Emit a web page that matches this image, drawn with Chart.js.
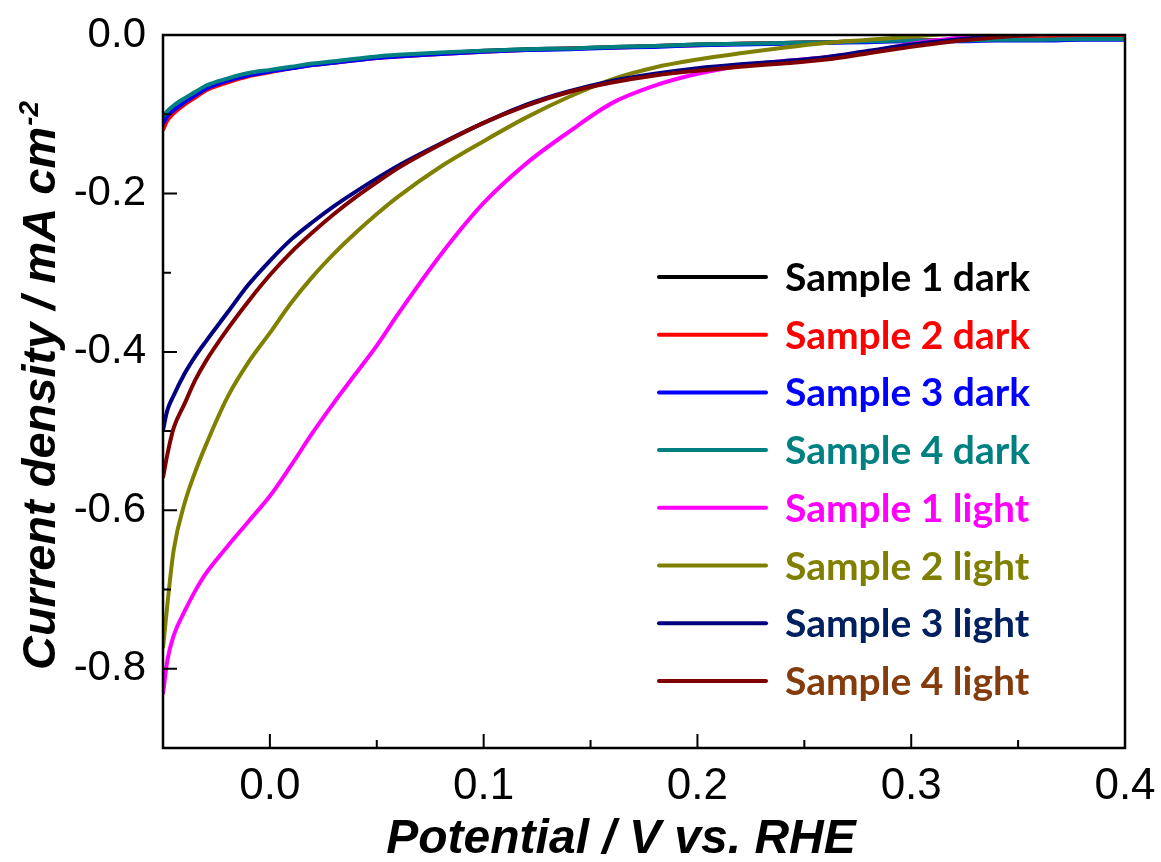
<!DOCTYPE html>
<html>
<head>
<meta charset="utf-8">
<title>LSV dark / light</title>
<script src="https://cdn.jsdelivr.net/npm/chart.js@4.4.1/dist/chart.umd.min.js"></script>
<style>
  html, body { margin: 0; padding: 0; background: #fff; }
  #wrap { width: 1161px; height: 862px; }
</style>
</head>
<body>
<div id="wrap"><canvas id="lsv-chart" width="1161" height="862"></canvas></div>
<script>
'use strict';

// potential (V vs. RHE), shared by every curve
const potential = [-0.05, -0.048, -0.045, -0.04, -0.035, -0.03, -0.02, -0.01, 0, 0.01, 0.02, 0.03, 0.04, 0.05, 0.06,
  0.08, 0.1, 0.12, 0.14, 0.16, 0.18, 0.2, 0.22, 0.24, 0.26, 0.28, 0.3, 0.32, 0.34, 0.36, 0.38, 0.4];

// current density (mA cm-2)
const s1Dark = [-0.106, -0.098, -0.091, -0.082, -0.074, -0.066, -0.056, -0.049, -0.045, -0.041, -0.037, -0.034, -0.031, -0.028, -0.026,
  -0.023, -0.020, -0.018, -0.017, -0.015, -0.014, -0.012, -0.011, -0.010, -0.009, -0.008, -0.007, -0.007, -0.006, -0.006, -0.005, -0.005];
const s2Dark = [-0.120, -0.108, -0.099, -0.088, -0.079, -0.070, -0.060, -0.052, -0.047, -0.042, -0.038, -0.035, -0.032, -0.029, -0.027,
  -0.024, -0.021, -0.019, -0.017, -0.016, -0.014, -0.013, -0.011, -0.010, -0.009, -0.008, -0.007, -0.006, -0.005, -0.004, -0.003, -0.002];
const s3Dark = [-0.112, -0.103, -0.095, -0.085, -0.076, -0.068, -0.058, -0.051, -0.046, -0.042, -0.038, -0.035, -0.032, -0.029, -0.027,
  -0.024, -0.021, -0.019, -0.018, -0.016, -0.015, -0.013, -0.012, -0.011, -0.010, -0.009, -0.008, -0.008, -0.007, -0.007, -0.006, -0.006];
const s4Dark = [-0.103, -0.096, -0.089, -0.080, -0.072, -0.064, -0.055, -0.048, -0.044, -0.040, -0.036, -0.033, -0.030, -0.027, -0.025,
  -0.022, -0.020, -0.018, -0.017, -0.015, -0.014, -0.012, -0.011, -0.010, -0.009, -0.008, -0.007, -0.007, -0.006, -0.006, -0.005, -0.005];
const s1Light = [-0.832, -0.790, -0.758, -0.728, -0.702, -0.680, -0.646, -0.614, -0.582, -0.543, -0.502, -0.464, -0.428, -0.392, -0.352,
  -0.277, -0.212, -0.162, -0.122, -0.086, -0.064, -0.049, -0.039, -0.033, -0.028, -0.021, -0.011, -0.004, 0.001, 0.005, 0.009, 0.013];
const s2Light = [-0.774, -0.720, -0.650, -0.592, -0.552, -0.518, -0.458, -0.413, -0.376, -0.338, -0.305, -0.276, -0.250, -0.226, -0.204,
  -0.166, -0.134, -0.104, -0.078, -0.056, -0.041, -0.031, -0.023, -0.016, -0.010, -0.006, -0.002, 0.002, 0.006, 0.010, 0.014, 0.018];
const s3Light = [-0.499, -0.474, -0.455, -0.428, -0.406, -0.387, -0.351, -0.315, -0.285, -0.258, -0.236, -0.216, -0.198, -0.181, -0.165,
  -0.137, -0.111, -0.088, -0.071, -0.058, -0.049, -0.042, -0.037, -0.033, -0.028, -0.020, -0.012, -0.006, -0.002, 0.002, 0.006, 0.010];
const s4Light = [-0.559, -0.530, -0.496, -0.466, -0.436, -0.412, -0.372, -0.336, -0.303, -0.274, -0.249, -0.226, -0.205, -0.186, -0.168,
  -0.138, -0.111, -0.089, -0.072, -0.060, -0.051, -0.045, -0.040, -0.036, -0.031, -0.023, -0.015, -0.008, -0.003, 0.001, 0.005, 0.009];

const seriesLabels = ['Sample 1 dark', 'Sample 2 dark', 'Sample 3 dark', 'Sample 4 dark',
  'Sample 1 light', 'Sample 2 light', 'Sample 3 light', 'Sample 4 light'];
const seriesValues = [s1Dark, s2Dark, s3Dark, s4Dark, s1Light, s2Light, s3Light, s4Light];
const lineColors = ['#000000', '#ff0000', '#0000ff', '#008080', '#ff00ff', '#808000', '#000080', '#800000'];
const textColors = ['#000000', '#ff0000', '#0000ff', '#008080', '#ff00ff', '#808000', '#002060', '#843c0c'];

const xTickValues = [0, 0.1, 0.2, 0.3, 0.4];
const xMinorTicks = [0.05, 0.15, 0.25, 0.35];
const yTickValues = [0, -0.2, -0.4, -0.6, -0.8];
const yMinorTicks = [-0.1, -0.3, -0.5, -0.7];

const AXIS_FONT = "'Liberation Sans', Arial, sans-serif";

// box, inward ticks, axis titles and the coloured legend
const decorations = {
  id: 'decorations',
  afterDraw(chart) {
    const ctx = chart.ctx;
    const a = chart.chartArea;
    const xs = chart.scales.x;
    const ys = chart.scales.y;

    ctx.save();
    ctx.strokeStyle = '#000';
    ctx.lineWidth = 2.5;
    ctx.strokeRect(a.left, a.top, a.right - a.left, a.bottom - a.top);

    ctx.lineWidth = 2;
    ctx.beginPath();
    xTickValues.forEach(function (v) {
      const px = xs.getPixelForValue(v);
      ctx.moveTo(px, a.bottom); ctx.lineTo(px, a.bottom - 14);
    });
    xMinorTicks.forEach(function (v) {
      const px = xs.getPixelForValue(v);
      ctx.moveTo(px, a.bottom); ctx.lineTo(px, a.bottom - 8);
    });
    yTickValues.forEach(function (v) {
      const py = ys.getPixelForValue(v);
      ctx.moveTo(a.left, py); ctx.lineTo(a.left + 14, py);
    });
    yMinorTicks.forEach(function (v) {
      const py = ys.getPixelForValue(v);
      ctx.moveTo(a.left, py); ctx.lineTo(a.left + 8, py);
    });
    ctx.stroke();

    // x title
    ctx.fillStyle = '#000';
    ctx.font = 'italic bold 48px ' + AXIS_FONT;
    ctx.textAlign = 'center';
    ctx.textBaseline = 'alphabetic';
    ctx.fillText('Potential / V vs. RHE', 621, 853);

    // y title with superscript
    const main = 'Current density / mA cm';
    const sup = '-2';
    ctx.font = 'italic bold 47px ' + AXIS_FONT;
    const wMain = ctx.measureText(main).width;
    ctx.font = 'italic bold 28px ' + AXIS_FONT;
    const wSup = ctx.measureText(sup).width;
    ctx.translate(55, 386);
    ctx.rotate(-Math.PI / 2);
    ctx.textAlign = 'left';
    const start = -(wMain + wSup) / 2;
    ctx.font = 'italic bold 47px ' + AXIS_FONT;
    ctx.fillText(main, start, 0);
    ctx.font = 'italic bold 28px ' + AXIS_FONT;
    ctx.fillText(sup, start + wMain + 1, -17);
    ctx.setTransform(1, 0, 0, 1, 0, 0);

    // legend
    const lineX0 = 659, lineX1 = 766, textX = 785, rowY0 = 277, rowStep = 57.7;
    ctx.font = 'bold 39px Lato, "Open Sans", sans-serif';
    ctx.textAlign = 'left';
    ctx.textBaseline = 'alphabetic';
    ctx.lineCap = 'round';
    ctx.lineWidth = 4;
    seriesLabels.forEach(function (label, i) {
      const y = rowY0 + i * rowStep;
      ctx.strokeStyle = lineColors[i];
      ctx.beginPath();
      ctx.moveTo(lineX0, y); ctx.lineTo(lineX1, y);
      ctx.stroke();
      ctx.fillStyle = textColors[i];
      ctx.fillText(label, textX, y + 14);
    });
    ctx.restore();
  }
};

const datasets = seriesLabels.map(function (label, i) {
  return {
    label: label,
    data: potential.map(function (p, k) { return { x: p, y: seriesValues[i][k] }; }),
    borderColor: lineColors[i],
    backgroundColor: lineColors[i],
    borderWidth: 4,
    pointRadius: 0,
    cubicInterpolationMode: 'monotone',
    fill: false,
    clip: 0,
    order: seriesLabels.length - i,
  };
});

const ctx = document.getElementById('lsv-chart').getContext('2d');
new Chart(ctx, {
  type: 'line',
  data: { datasets: datasets },
  plugins: [decorations],
  options: {
    responsive: false,
    animation: false,
    devicePixelRatio: 1,
    layout: { padding: { top: 35, right: 36, left: 0, bottom: 0 } },
    plugins: {
      legend: { display: false },
      tooltip: { enabled: false },
    },
    scales: {
      x: {
        type: 'linear',
        min: -0.05,
        max: 0.4,
        afterBuildTicks: function (scale) {
          scale.ticks = xTickValues.map(function (v) { return { value: v }; });
        },
        afterFit: function (scale) {
          scale.height = 114;
          scale.paddingLeft = 0;
          scale.paddingRight = 0;
        },
        grid: { display: false, drawTicks: false },
        border: { display: false },
        ticks: {
          color: '#000',
          padding: 12,
          maxRotation: 0,
          autoSkip: false,
          font: { family: AXIS_FONT, size: 44 },
          callback: function (v) { return Number(v).toFixed(1); },
        },
      },
      y: {
        type: 'linear',
        min: -0.9,
        max: 0,
        afterBuildTicks: function (scale) {
          scale.ticks = yTickValues.map(function (v) { return { value: v }; });
        },
        afterFit: function (scale) {
          scale.width = 163;
          scale.paddingTop = 0;
          scale.paddingBottom = 0;
        },
        grid: { display: false, drawTicks: false },
        border: { display: false },
        ticks: {
          color: '#000',
          padding: 17,
          autoSkip: false,
          font: { family: AXIS_FONT, size: 42 },
          callback: function (v) { return Number(v).toFixed(1); },
        },
      },
    },
  },
});
</script>
</body>
</html>
